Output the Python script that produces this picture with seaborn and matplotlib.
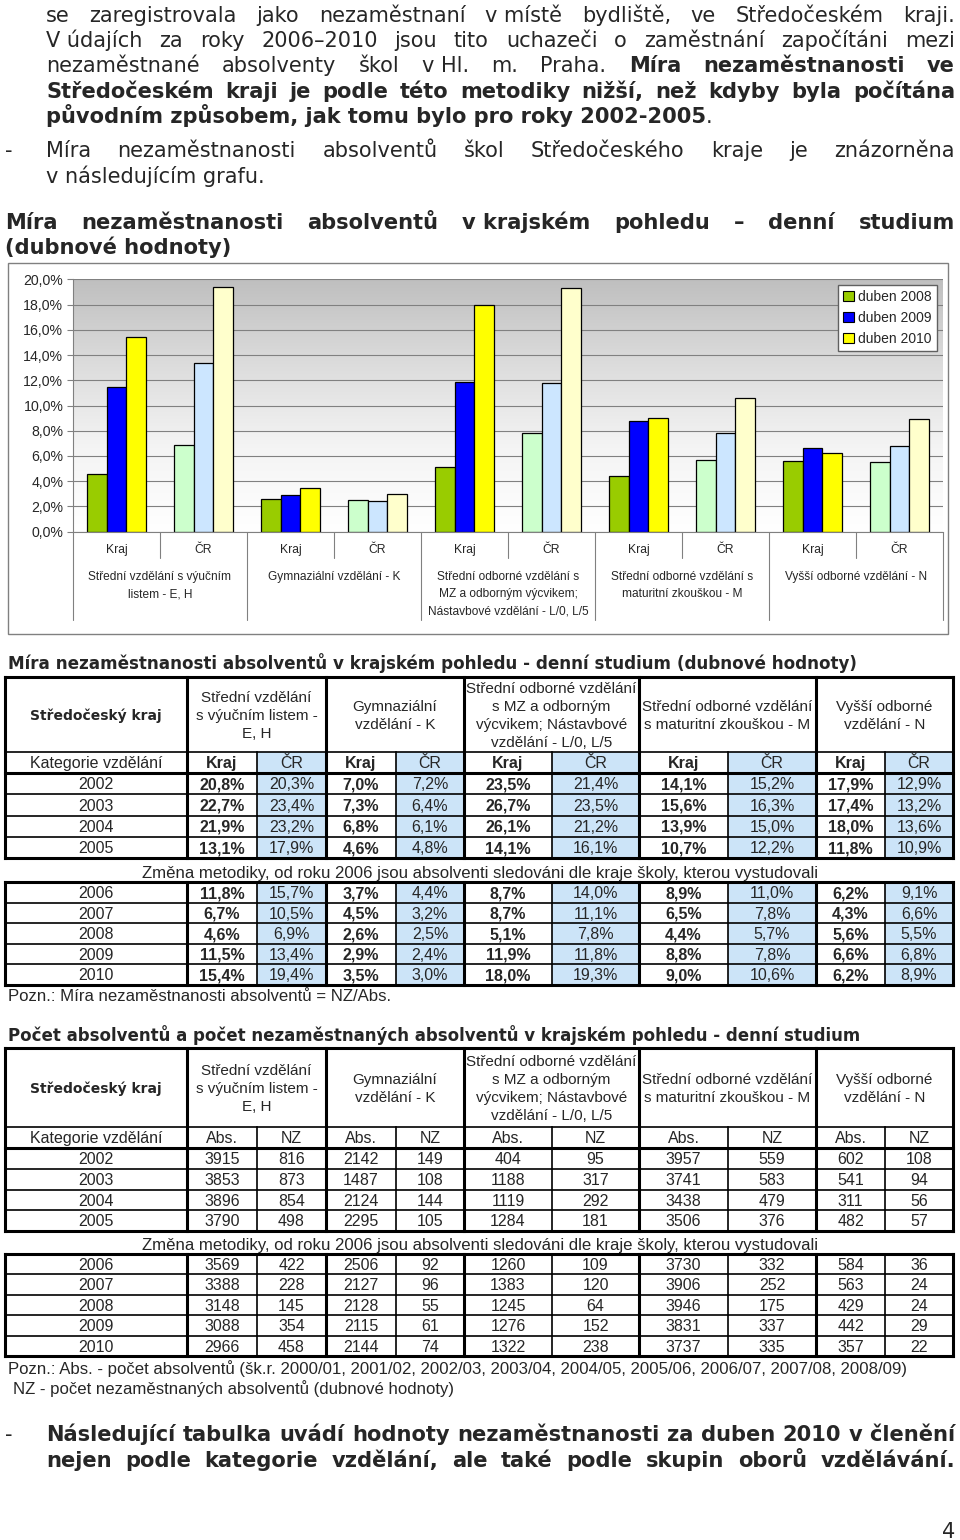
import numpy as np
import pandas as pd
import matplotlib
matplotlib.use("Agg")
import matplotlib.pyplot as plt
import seaborn as sns
from matplotlib.colors import LinearSegmentedColormap
from matplotlib.lines import Line2D
from matplotlib.patches import Patch, Rectangle
from matplotlib.transforms import blended_transform_factory

# --- data -------------------------------------------------------------
years = [2002, 2003, 2004, 2005, 2006, 2007, 2008, 2009, 2010]
chart_years = [2008, 2009, 2010]
regions = ["Kraj", "ČR"]

group_labels = [
    "Střední vzdělání s výučním\nlistem - E, H",
    "Gymnaziální vzdělání - K",
    "Střední odborné vzdělání s\nMZ a odborným výcvikem;\nNástavbové vzdělání - L/0, L/5",
    "Střední odborné vzdělání s\nmaturitní zkouškou - M",
    "Vyšší odborné vzdělání - N",
]
table_heads = [
    "Střední vzdělání\ns výučním listem -\nE, H",
    "Gymnaziální\nvzdělání - K",
    "Střední odborné vzdělání\ns MZ a odborným\nvýcvikem; Nástavbové\nvzdělání - L/0, L/5",
    "Střední odborné vzdělání\ns maturitní zkouškou - M",
    "Vyšší odborné\nvzdělání - N",
]

# unemployment rate (%) per year 2002-2010
rate_EH_kraj = [20.8, 22.7, 21.9, 13.1, 11.8, 6.7, 4.6, 11.5, 15.4]
rate_EH_cr = [20.3, 23.4, 23.2, 17.9, 15.7, 10.5, 6.9, 13.4, 19.4]
rate_K_kraj = [7.0, 7.3, 6.8, 4.6, 3.7, 4.5, 2.6, 2.9, 3.5]
rate_K_cr = [7.2, 6.4, 6.1, 4.8, 4.4, 3.2, 2.5, 2.4, 3.0]
rate_L_kraj = [23.5, 26.7, 26.1, 14.1, 8.7, 8.7, 5.1, 11.9, 18.0]
rate_L_cr = [21.4, 23.5, 21.2, 16.1, 14.0, 11.1, 7.8, 11.8, 19.3]
rate_M_kraj = [14.1, 15.6, 13.9, 10.7, 8.9, 6.5, 4.4, 8.8, 9.0]
rate_M_cr = [15.2, 16.3, 15.0, 12.2, 11.0, 7.8, 5.7, 7.8, 10.6]
rate_N_kraj = [17.9, 17.4, 18.0, 11.8, 6.2, 4.3, 5.6, 6.6, 6.2]
rate_N_cr = [12.9, 13.2, 13.6, 10.9, 9.1, 6.6, 5.5, 6.8, 8.9]

# graduates (Abs.) and unemployed graduates (NZ)
abs_EH = [3915, 3853, 3896, 3790, 3569, 3388, 3148, 3088, 2966]
nz_EH = [816, 873, 854, 498, 422, 228, 145, 354, 458]
abs_K = [2142, 1487, 2124, 2295, 2506, 2127, 2128, 2115, 2144]
nz_K = [149, 108, 144, 105, 92, 96, 55, 61, 74]
abs_L = [404, 1188, 1119, 1284, 1260, 1383, 1245, 1276, 1322]
nz_L = [95, 317, 292, 181, 109, 120, 64, 152, 238]
abs_M = [3957, 3741, 3438, 3506, 3730, 3906, 3946, 3831, 3737]
nz_M = [559, 583, 479, 376, 332, 252, 175, 337, 335]
abs_N = [602, 541, 311, 482, 584, 563, 429, 442, 357]
nz_N = [108, 94, 56, 57, 36, 24, 24, 29, 22]

# --- page setup -------------------------------------------------------
sns.set_theme(style="white")
plt.rcParams["font.family"] = ["DejaVu Sans"]
SANS = "Liberation Sans"
PX = 100 / 72

fig = plt.figure(figsize=(9.6, 15.4), dpi=100, facecolor="white")
page = fig.add_axes([0, 0, 1, 1], zorder=0)
page.set_xlim(0, 960)
page.set_ylim(1540, 0)
page.axis("off")
renderer = fig.canvas.get_renderer()


def put(x, y, s, size, weight="normal", family="DejaVu Sans", ha="left", **kw):
    # y = visual middle of the line
    return page.text(x, y + 0.36 * size * PX, s, fontsize=size, fontweight=weight,
                     family=family, ha=ha, va="baseline", **kw)


def width(s, size, weight="normal", family="DejaVu Sans"):
    t = page.text(0, 0, s, fontsize=size, fontweight=weight, family=family)
    w = t.get_window_extent(renderer).width
    t.remove()
    return w


def fit(s, target, weight="normal", family="DejaVu Sans"):
    return 10 * target / width(s, 10, weight, family)


def words(s, weight="normal"):
    return [(w.replace("~", " "), weight) for w in s.split()]


def justify(x0, x1, y, toks, size):
    ws = [width(t, size, w) for t, w in toks]
    gap = (x1 - x0 - sum(ws)) / (len(toks) - 1)
    x = x0
    for (t, w), wd in zip(toks, ws):
        put(x, y, t, size, w)
        x += wd + gap


BOLD = fit("původním způsobem, jak tomu bylo pro roky 2002-2005.", 669, "bold")
REG = fit("v následujícím grafu.", 219)

# --- paragraph text ---------------------------------------------------
justify(46, 955, 14, words("se zaregistrovala jako nezaměstnaní v~místě bydliště, ve Středočeském kraji."), REG)
justify(46, 955, 39, words("V~údajích za roky 2006–2010 jsou tito uchazeči o zaměstnání započítáni mezi"), REG)
justify(46, 955, 64, words("nezaměstnané absolventy škol v~Hl. m. Praha.") + words("Míra nezaměstnanosti ve", "bold"), REG)
justify(46, 955, 90, words("Středočeském kraji je podle této metodiky nižší, než kdyby byla počítána", "bold"), BOLD)
t5 = "původním způsobem, jak tomu bylo pro roky 2002-2005"
put(46, 115, t5, BOLD, "bold")
put(46 + width(t5, BOLD, "bold"), 115, ".", REG)
put(5, 149, "-", REG)
justify(46, 955, 149, words("Míra nezaměstnanosti absolventů škol Středočeského kraje je znázorněna"), REG)
put(46, 175, "v následujícím grafu.", REG)
justify(5, 955, 221, words("Míra nezaměstnanosti absolventů v~krajském pohledu – denní studium", "bold"), BOLD)
put(5, 246, "(dubnové hodnoty)", BOLD, "bold")

# --- bar chart --------------------------------------------------------
kraj_series = [rate_EH_kraj, rate_K_kraj, rate_L_kraj, rate_M_kraj, rate_N_kraj]
cr_series = [rate_EH_cr, rate_K_cr, rate_L_cr, rate_M_cr, rate_N_cr]
rows = []
for g in range(len(group_labels)):
    for region, series in zip(regions, (kraj_series[g], cr_series[g])):
        for yr in chart_years:
            rows.append({"pos": f"{g}{region}", "region": region,
                         "rok": f"duben {yr}", "value": series[years.index(yr)]})
df = pd.DataFrame(rows)
order = [f"{g}{r}" for g in range(len(group_labels)) for r in regions]
hue_order = [f"duben {y}" for y in chart_years]
pal_kraj = dict(zip(hue_order, ["#99cc00", "#0000ff", "#ffff00"]))
pal_cr = dict(zip(hue_order, ["#ccffcc", "#cce6ff", "#ffffcc"]))

page.add_patch(Rectangle((8, 263), 940, 371, fill=False, edgecolor="#808080", lw=1))

ax = fig.add_axes([73 / 960, 1 - 531.7 / 1540, 870 / 960, 252.4 / 1540], zorder=2)
ax.patch.set_alpha(0)
for region, pal in (("Kraj", pal_kraj), ("ČR", pal_cr)):
    sns.barplot(data=df[df.region == region], x="pos", y="value", hue="rok",
                order=order, hue_order=hue_order, palette=pal, width=0.667,
                saturation=1, edgecolor="black", linewidth=0.9, errorbar=None,
                legend=False, ax=ax)

bg = LinearSegmentedColormap.from_list("bg", ["#ffffff", "#f4f4f4", "#dcdcdc", "#bfbfbf"])
ax.imshow(np.linspace(0, 1, 256).reshape(-1, 1), extent=(-0.5, 9.5, 0, 20),
          origin="lower", aspect="auto", cmap=bg, zorder=0)
ax.set_xlim(-0.5, 9.5)
ax.set_ylim(0, 20)
ax.set_axisbelow(True)
ax.yaxis.grid(True, color="#808080", lw=0.8)
ax.set_xlabel("")
ax.set_ylabel("")
ax.set_xticks([])
yt = list(range(0, 21, 2))
ax.set_yticks(yt)
ax.set_yticklabels([f"{v:.1f}".replace(".", ",") + "%" for v in yt], fontfamily=SANS, fontsize=10.2)
ax.tick_params(axis="y", left=True, length=4, width=0.8, color="#808080", pad=3)
for side in ("top", "right"):
    ax.spines[side].set_visible(False)
for side in ("left", "bottom"):
    ax.spines[side].set_color("#808080")
    ax.spines[side].set_linewidth(0.8)

ax.legend(handles=[Patch(facecolor=pal_kraj[h], edgecolor="black", lw=0.8, label=h) for h in hue_order],
          loc="upper right", bbox_to_anchor=(0.993, 0.977), borderaxespad=0,
          frameon=True, fancybox=False, framealpha=1, edgecolor="#606060",
          prop={"family": SANS, "size": 10}, handlelength=0.75, handleheight=0.75,
          handletextpad=0.35, labelspacing=0.5, borderpad=0.35)

bt = blended_transform_factory(ax.transData, page.transData)
for i, key in enumerate(order):
    put(i, 549, key[1:], 8.7, family=SANS, ha="center", transform=bt)
for i in range(len(order)):
    if i % 2:
        page.add_artist(Line2D([i - 0.5, i - 0.5], [531.7, 558], color="#808080", lw=0.8, transform=bt))
for g, lab in enumerate(group_labels):
    page.add_artist(Line2D([2 * g - 0.5] * 2, [531.7, 620], color="#808080", lw=0.8, transform=bt))
    for k, ln in enumerate(lab.split("\n")):
        put(2 * g + 0.5, 576 + 17 * k, ln, 8.6, family=SANS, ha="center", transform=bt)
page.add_artist(Line2D([9.5, 9.5], [531.7, 620], color="#808080", lw=0.8, transform=bt))

# --- tables -----------------------------------------------------------
col_x = [5, 187, 257, 326, 396, 464, 552, 639, 728, 816, 885, 953]
THICK, THIN = 2.2, 1.2
SHADE = "#cce4f8"
change_note = "Změna metodiky, od roku 2006 jsou absolventi sledováni dle kraje školy, kterou vystudovali"
NOTE_SIZE = fit(change_note, 676, family=SANS)
HEAD_SIZE = fit("Středočeský kraj", 132, "bold")


def seg(x0, y0, x1, y1, lw):
    page.add_artist(Line2D([x0, x1], [y0, y1], color="black", lw=lw, solid_capstyle="projecting"))


def frame(y0, y1, inner, full_top):
    L, R = col_x[0], col_x[-1]
    for y in inner:
        seg(L, y, R, y, THIN)
    for c in range(2, 11, 2):
        seg(col_x[c], full_top, col_x[c], y1, THIN)
    for c in (0, 1, 3, 5, 7, 9, 11):
        seg(col_x[c], y0, col_x[c], y1, THICK)
    seg(L, y0, R, y0, THICK)
    seg(L, y1, R, y1, THICK)


def draw_table(top, head_bot, sub_bot, rows1, mid_y, rows2, sub_labels, series, fmt, shaded):
    if shaded:
        for c in range(2, 11, 2):
            for y0, y1 in ((head_bot, rows1[-1]), (rows2[0], rows2[-1])):
                page.add_patch(Rectangle((col_x[c], y0), col_x[c + 1] - col_x[c], y1 - y0,
                                         facecolor=SHADE, edgecolor="none"))
    frame(top, rows1[-1], [head_bot] + list(rows1[1:-1]), head_bot)
    seg(col_x[0], sub_bot, col_x[-1], sub_bot, THICK)
    frame(rows2[0], rows2[-1], list(rows2[1:-1]), rows2[0])

    hy = (top + head_bot) / 2
    put((col_x[0] + col_x[1]) / 2, hy, "Středočeský kraj", HEAD_SIZE, "bold", ha="center")
    for g, head in enumerate(table_heads):
        lines = head.split("\n")
        cx = (col_x[1 + 2 * g] + col_x[3 + 2 * g]) / 2
        for k, ln in enumerate(lines):
            put(cx, hy + (k - (len(lines) - 1) / 2) * 18.3, ln, 11, family=SANS, ha="center")
    sy = (head_bot + sub_bot) / 2
    put((col_x[0] + col_x[1]) / 2, sy, "Kategorie vzdělání", 11.5, family=SANS, ha="center")
    for c in range(10):
        wt = "bold" if shaded and c % 2 == 0 else "normal"
        put((col_x[c + 1] + col_x[c + 2]) / 2, sy, sub_labels[c % 2], 11.5, wt, SANS, ha="center")

    centers = [(a + b) / 2 for a, b in zip(rows1[:-1], rows1[1:])] + \
              [(a + b) / 2 for a, b in zip(rows2[:-1], rows2[1:])]
    for r, (yr, cy) in enumerate(zip(years, centers)):
        put((col_x[0] + col_x[1]) / 2, cy, str(yr), 11.5, family=SANS, ha="center")
        for c, s in enumerate(series):
            wt = "bold" if shaded and c % 2 == 0 else "normal"
            put((col_x[c + 1] + col_x[c + 2]) / 2, cy, fmt(s[r]), 11.5, wt, SANS, ha="center")
    put(480, mid_y, change_note, NOTE_SIZE, family=SANS, ha="center")


def pct(v):
    return f"{v:.1f}".replace(".", ",") + "%"


title1 = "Míra nezaměstnanosti absolventů v krajském pohledu - denní studium (dubnové hodnoty)"
put(8, 663, title1, fit(title1, 848, "bold"), "bold")
draw_table(677, 752, 773, np.linspace(773, 858, 5), 871.5, np.linspace(882, 985, 6),
           ["Kraj", "ČR"],
           [rate_EH_kraj, rate_EH_cr, rate_K_kraj, rate_K_cr, rate_L_kraj, rate_L_cr,
            rate_M_kraj, rate_M_cr, rate_N_kraj, rate_N_cr], pct, True)
note1 = "Pozn.: Míra nezaměstnanosti absolventů = NZ/Abs."
put(8, 995, note1, fit(note1, 381, family=SANS), family=SANS)

title2 = "Počet absolventů a počet nezaměstnaných absolventů v krajském pohledu - denní studium"
put(8, 1035, title2, fit(title2, 854, "bold"), "bold")
draw_table(1048, 1127, 1148, np.linspace(1148, 1231, 5), 1244, np.linspace(1254, 1356, 6),
           ["Abs.", "NZ"],
           [abs_EH, nz_EH, abs_K, nz_K, abs_L, nz_L, abs_M, nz_M, abs_N, nz_N], str, False)
note2 = "Pozn.: Abs. - počet absolventů (šk.r. 2000/01, 2001/02, 2002/03, 2003/04, 2004/05, 2005/06, 2006/07, 2007/08, 2008/09)"
size2 = fit(note2, 897, family=SANS)
put(8, 1368, note2, size2, family=SANS)
put(13, 1388, "NZ - počet nezaměstnaných absolventů (dubnové hodnoty)", size2, family=SANS)

# --- closing paragraph ------------------------------------------------
put(5, 1433, "-", REG)
justify(46, 955, 1433, words("Následující tabulka uvádí hodnoty nezaměstnanosti za duben 2010 v~členění", "bold"), BOLD)
justify(46, 955, 1459, words("nejen podle kategorie vzdělání, ale také podle skupin oborů vzdělávání.", "bold"), BOLD)
put(955, 1530, "4", REG, ha="right")

page.set_xlim(0, 960)
page.set_ylim(1540, 0)
fig.savefig("out.png", dpi=100, facecolor="white")
